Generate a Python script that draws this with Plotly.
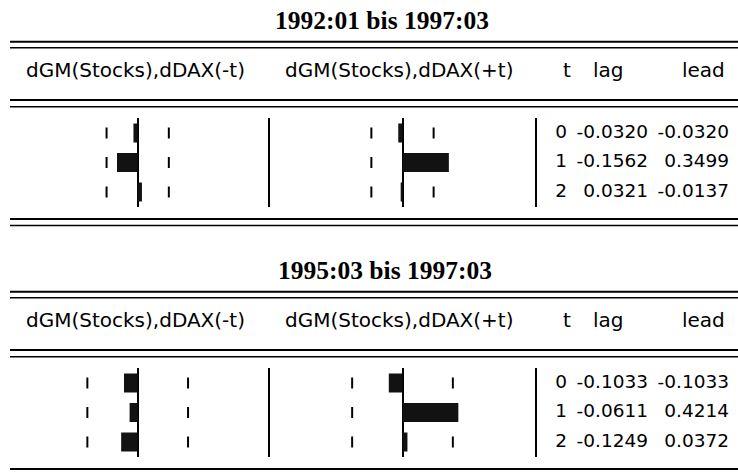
import plotly.graph_objects as go

W, H = 738, 472

# ---------------- data ----------------
titles = ["1992:01 bis 1997:03", "1995:03 bis 1997:03"]
col_headers = ["dGM(Stocks),dDAX(-t)", "dGM(Stocks),dDAX(+t)", "t", "lag", "lead"]
t_values = [0, 1, 2]
lag_top = [-0.0320, -0.1562, 0.0321]
lead_top = [-0.0320, 0.3499, -0.0137]
lag_bot = [-0.1033, -0.0611, -0.1249]
lead_bot = [-0.1033, 0.4214, 0.0372]
bound_top = 0.235
bound_bot = 0.38

panels = [
    dict(title=titles[0], lag=lag_top, lead=lead_top, bound=bound_top, off=0, tx=382),
    dict(title=titles[1], lag=lag_bot, lead=lead_bot, bound=bound_bot, off=250, tx=385),
]


def px(x):
    return x / W


def py(y):
    return 1 - y / H


fig = go.Figure()
layout = dict(
    width=W, height=H, margin=dict(l=0, r=0, t=0, b=0),
    paper_bgcolor="white", plot_bgcolor="rgba(0,0,0,0)",
    showlegend=False, shapes=[], annotations=[], barmode="overlay",
)

BAR = "#121212"
NUMFONT = dict(family="DejaVu Sans", size=18.5, color="black")
HDRFONT = dict(family="DejaVu Sans", size=20, color="black")
DASH_W = 0.015   # thickness of the significance-bound dash (axis units)

ax = 0
for p in panels:
    o = p["off"]
    ydom = [py(o + 206.75), py(o + 118.25)]
    cols = [
        ("corr", p["lag"], [px(5.2), px(270.2)]),
        ("corr_r", p["lead"], [px(270), px(535)]),
        ("text", None, [px(535), px(738)]),
    ]
    for kind, vals, xdom in cols:
        ax += 1
        xa = "x" if ax == 1 else f"x{ax}"
        ya = "y" if ax == 1 else f"y{ax}"
        xkey = "xaxis" if ax == 1 else f"xaxis{ax}"
        ykey = "yaxis" if ax == 1 else f"yaxis{ax}"
        ycfg = dict(domain=ydom, range=[2.5, -0.5], anchor=xa,
                    showgrid=False, zeroline=False, showticklabels=False, ticks="")
        if kind == "text":
            layout[xkey] = dict(domain=xdom, range=[-0.395, -0.395 + 203 / 81], anchor=ya,
                                showgrid=False, zeroline=False, showticklabels=False, ticks="")
            layout[ykey] = ycfg
            fig.add_trace(go.Scatter(x=[0] * 3, y=t_values, mode="text",
                                     text=[str(t) for t in t_values],
                                     textposition="middle left", textfont=NUMFONT,
                                     xaxis=xa, yaxis=ya, hoverinfo="skip"))
            fig.add_trace(go.Scatter(x=[1] * 3, y=t_values, mode="text",
                                     text=[f"{v:.4f}" for v in p["lag"]],
                                     textposition="middle left", textfont=NUMFONT,
                                     xaxis=xa, yaxis=ya, hoverinfo="skip"))
            fig.add_trace(go.Scatter(x=[2] * 3, y=t_values, mode="text",
                                     text=[f"{v:.4f}" for v in p["lead"]],
                                     textposition="middle left", textfont=NUMFONT,
                                     xaxis=xa, yaxis=ya, hoverinfo="skip"))
        else:
            layout[xkey] = dict(domain=xdom, range=[-1, 1], anchor=ya,
                                showgrid=False, zeroline=True, zerolinewidth=2,
                                zerolinecolor="black", showticklabels=False, ticks="")
            if kind == "corr_r":
                ycfg.update(showline=True, mirror=True, linewidth=2, linecolor="black")
            layout[ykey] = ycfg
            # significance-bound dashes first, so the correlation bars cover them
            for s in (-1, 1):
                fig.add_trace(go.Bar(x=[DASH_W] * 3, y=t_values,
                                     base=[s * p["bound"] - DASH_W / 2] * 3,
                                     orientation="h", width=0.37,
                                     marker=dict(color="black", line=dict(width=0)),
                                     xaxis=xa, yaxis=ya, hoverinfo="skip"))
            fig.add_trace(go.Bar(x=vals, y=t_values, orientation="h", width=0.65,
                                 marker=dict(color=BAR, line=dict(width=0)),
                                 xaxis=xa, yaxis=ya, hoverinfo="skip"))

    # title
    layout["annotations"].append(dict(
        text=f"<b>{p['title']}</b>", x=px(p["tx"]), y=py(o + 20), xref="paper", yref="paper",
        xanchor="center", yanchor="middle", showarrow=False,
        font=dict(family="Liberation Serif", size=25.5, color="black")))
    # headers
    hdr_x = [135, 400, 567, 608, 703.5]
    for h, hx in zip(col_headers, hdr_x):
        layout["annotations"].append(dict(
            text=h, x=px(hx), y=py(o + 70), xref="paper", yref="paper",
            xanchor="center", yanchor="middle", showarrow=False, font=HDRFONT))
    # rules
    rules = [(41.7, 2), (47.7, 1.5), (100, 2), (106.7, 1.5), (219, 2), (225.5, 1.5)]
    for ry, lw in rules:
        layout["shapes"].append(dict(type="line", xref="paper", yref="paper",
                                     x0=px(10), x1=1, y0=py(o + ry), y1=py(o + ry),
                                     line=dict(color="black", width=lw)))

fig.update_layout(**layout)
fig.write_html("out.html", config={"displayModeBar": False, "staticPlot": True})

# remove the default page margin so the figure sits at the window origin
with open("out.html", "r", encoding="utf-8") as f:
    html = f.read()
html = html.replace("<head>", "<head><style>html,body{margin:0;padding:0;overflow:hidden}</style>", 1)
with open("out.html", "w", encoding="utf-8") as f:
    f.write(html)
